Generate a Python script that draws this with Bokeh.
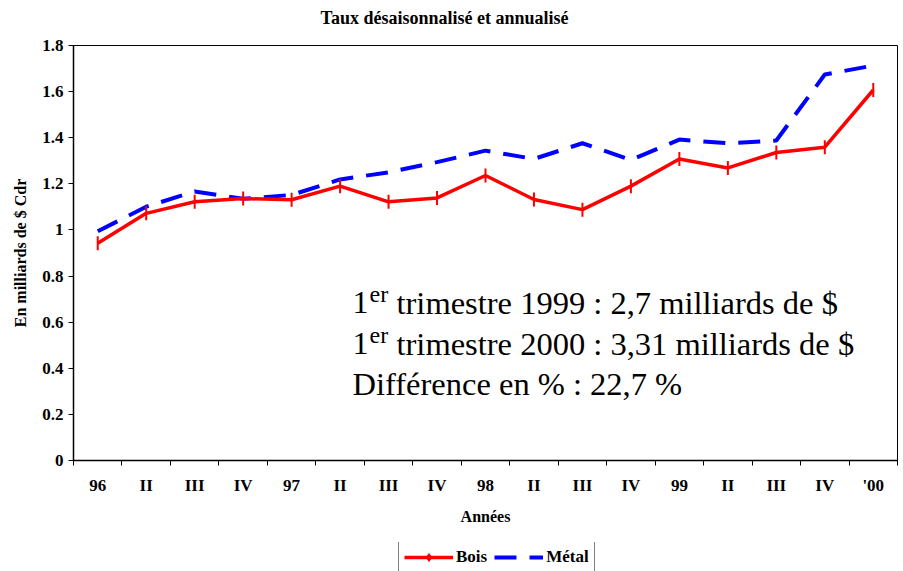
from bokeh.plotting import figure
from bokeh.layouts import column
from bokeh.models import (Range1d, FixedTicker, Label, Legend, LegendItem,
                          ColumnDataSource)
from bokeh.embed import file_html
from bokeh.resources import INLINE
import math

# ---------------- data ----------------
quarter_labels = ["96", "II", "III", "IV", "97", "II", "III", "IV", "98",
                  "II", "III", "IV", "99", "II", "III", "IV", "'00"]
bois = [0.942, 1.072, 1.122, 1.136, 1.131, 1.190, 1.122, 1.139, 1.236,
        1.132, 1.088, 1.190, 1.308, 1.269, 1.336, 1.359, 1.607]
metal = [0.994, 1.101, 1.167, 1.135, 1.152, 1.219, 1.250, 1.294, 1.344,
         1.308, 1.376, 1.304, 1.392, 1.376, 1.388, 1.674, 1.713]
y_tick_values = [0, 0.2, 0.4, 0.6, 0.8, 1, 1.2, 1.4, 1.6, 1.8]
y_tick_labels = ["0", "0.2", "0.4", "0.6", "0.8", "1", "1.2", "1.4", "1.6", "1.8"]
series_names = ["Bois", "Métal"]

title_text = "Taux désaisonnalisé et annualisé"
y_title = "En milliards de $ Cdr"
x_title = "Années"
note_lines = ["trimestre 1999 : 2,7 milliards de $",
              "trimestre 2000 : 3,31 milliards de $",
              "Différence en % : 22,7 %"]

# ---------------- layout (page px) ----------------
W = 900
H_TITLE, H_LEG = 28, 29
H_MAIN = 571 - H_TITLE - H_LEG
FL, FR, FT, FB = 73, 897, 45, 460   # frame edges, page px
N = len(quarter_labels)
YMAX = 1.8
RED, BLUE = "#FF0000", "#0000FF"
SERIF = "Liberation Serif"

def dx(px):
    return (px - FL) / (FR - FL) * N

def dy(py):
    return (FB - py) / (FB - FT) * YMAX

def strip(height):
    f = figure(width=W, height=height, output_backend="svg", toolbar_location=None,
               x_range=Range1d(0, 1), y_range=Range1d(0, height),
               x_axis_type=None, y_axis_type=None,
               min_border_left=FL, min_border_right=W - FR,
               min_border_top=0, min_border_bottom=0,
               background_fill_color="white", border_fill_color="white")
    f.outline_line_color = None
    return f

# ---------------- title strip ----------------
pt = strip(H_TITLE)
pt.add_layout(Label(x=(444 - FL) / (FR - FL), y=H_TITLE - 17, text=title_text,
                    text_font=SERIF, text_font_style="bold",
                    text_font_size="18px", text_color="black",
                    text_align="center", text_baseline="middle"))

# ---------------- main plot ----------------
p = figure(width=W, height=H_MAIN, output_backend="svg", toolbar_location=None,
           x_range=Range1d(0, N), y_range=Range1d(0, YMAX),
           min_border_left=FL, min_border_right=W - FR,
           min_border_top=FT - H_TITLE, min_border_bottom=H_TITLE + H_MAIN - FB,
           background_fill_color="white", border_fill_color="white")
p.xgrid.visible = False
p.ygrid.visible = False
p.outline_line_color = "black"
p.outline_line_width = 1

centers = [i + 0.5 for i in range(N)]
bounds = [float(i) for i in range(N + 1)]

# x axis
xa = p.xaxis[0]
xa.ticker = FixedTicker(ticks=centers, minor_ticks=bounds)
xa.major_label_overrides = {c: l for c, l in zip(centers, quarter_labels)}
xa.major_tick_out = 0
xa.major_tick_in = 0
xa.minor_tick_out = 5
xa.minor_tick_in = 0
xa.minor_tick_line_color = "black"
xa.axis_line_color = "black"
xa.axis_line_width = 1.5
xa.major_label_text_font = SERIF
xa.major_label_text_font_style = "bold"
xa.major_label_text_font_size = "17px"
xa.major_label_text_color = "black"
xa.major_label_standoff = 10
xa.axis_label = x_title
xa.axis_label_text_font = SERIF
xa.axis_label_text_font_style = "bold"
xa.axis_label_text_font_size = "16px"
xa.axis_label_text_color = "black"
xa.axis_label_standoff = 10

# y axis
ya = p.yaxis[0]
ya.ticker = FixedTicker(ticks=y_tick_values, minor_ticks=[])
ya.major_label_overrides = {v: l for v, l in zip(y_tick_values, y_tick_labels)}
ya.major_tick_out = 5
ya.major_tick_in = 0
ya.major_tick_line_color = "black"
ya.axis_line_color = "black"
ya.axis_line_width = 1.5
ya.major_label_text_font = SERIF
ya.major_label_text_font_style = "bold"
ya.major_label_text_font_size = "17px"
ya.major_label_text_color = "black"
ya.major_label_standoff = 5
ya.axis_label = y_title
ya.axis_label_text_font = SERIF
ya.axis_label_text_font_style = "bold"
ya.axis_label_text_font_size = "16px"
ya.axis_label_text_color = "black"
ya.axis_label_standoff = 10

# series
src = ColumnDataSource(dict(x=centers, bois=bois, metal=metal))
p.line("x", "metal", source=src, line_color=BLUE, line_width=4, line_dash="22 13")
p.line("x", "bois", source=src, line_color=RED, line_width=3.5)
p.scatter("x", "bois", source=src, marker="dash", angle=math.pi / 2,
          size=14, line_color=RED, line_width=2)

# note text
baselines = [302, 343, 383]
for i, (line, by) in enumerate(zip(note_lines, baselines)):
    if i < 2:
        p.add_layout(Label(x=dx(352), y=dy(by), text="1", text_font=SERIF,
                           text_font_size="32px", text_color="black",
                           text_baseline="alphabetic"))
        p.add_layout(Label(x=dx(369), y=dy(by - 9), text="er", text_font=SERIF,
                           text_font_size="24px", text_color="black",
                           text_baseline="alphabetic"))
        p.add_layout(Label(x=dx(396), y=dy(by), text=line, text_font=SERIF,
                           text_font_size="32.5px", text_color="black",
                           text_baseline="alphabetic"))
    else:
        p.add_layout(Label(x=dx(352), y=dy(by), text=line, text_font=SERIF,
                           text_font_size="32.5px", text_color="black",
                           text_baseline="alphabetic"))

# ---------------- legend strip ----------------
pl = strip(H_LEG)
nan_src = ColumnDataSource(dict(x=[float("nan")], y=[float("nan")]))
lb = pl.line("x", "y", source=nan_src, line_color=RED, line_width=3.5)
ld = pl.scatter("x", "y", source=nan_src, marker="diamond", size=15,
                fill_color=RED, line_color=RED)
lm = pl.line("x", "y", source=nan_src, line_color=BLUE, line_width=4,
             line_dash="22 13")
legend = Legend(items=[LegendItem(label=series_names[0], renderers=[lb, ld]),
                       LegendItem(label=series_names[1], renderers=[lm])],
                orientation="horizontal", location=(398 - FL, -2),
                glyph_width=49, glyph_height=20, label_height=20,
                label_standoff=3, spacing=7, padding=5, margin=0,
                border_line_color="black", border_line_width=1,
                background_fill_color="white", background_fill_alpha=1,
                label_text_font=SERIF, label_text_font_style="bold",
                label_text_font_size="17px", label_text_color="black")
pl.add_layout(legend, "center")

layout = column(pt, p, pl, spacing=0)
open("out.html", "w").write(file_html(layout, INLINE))
